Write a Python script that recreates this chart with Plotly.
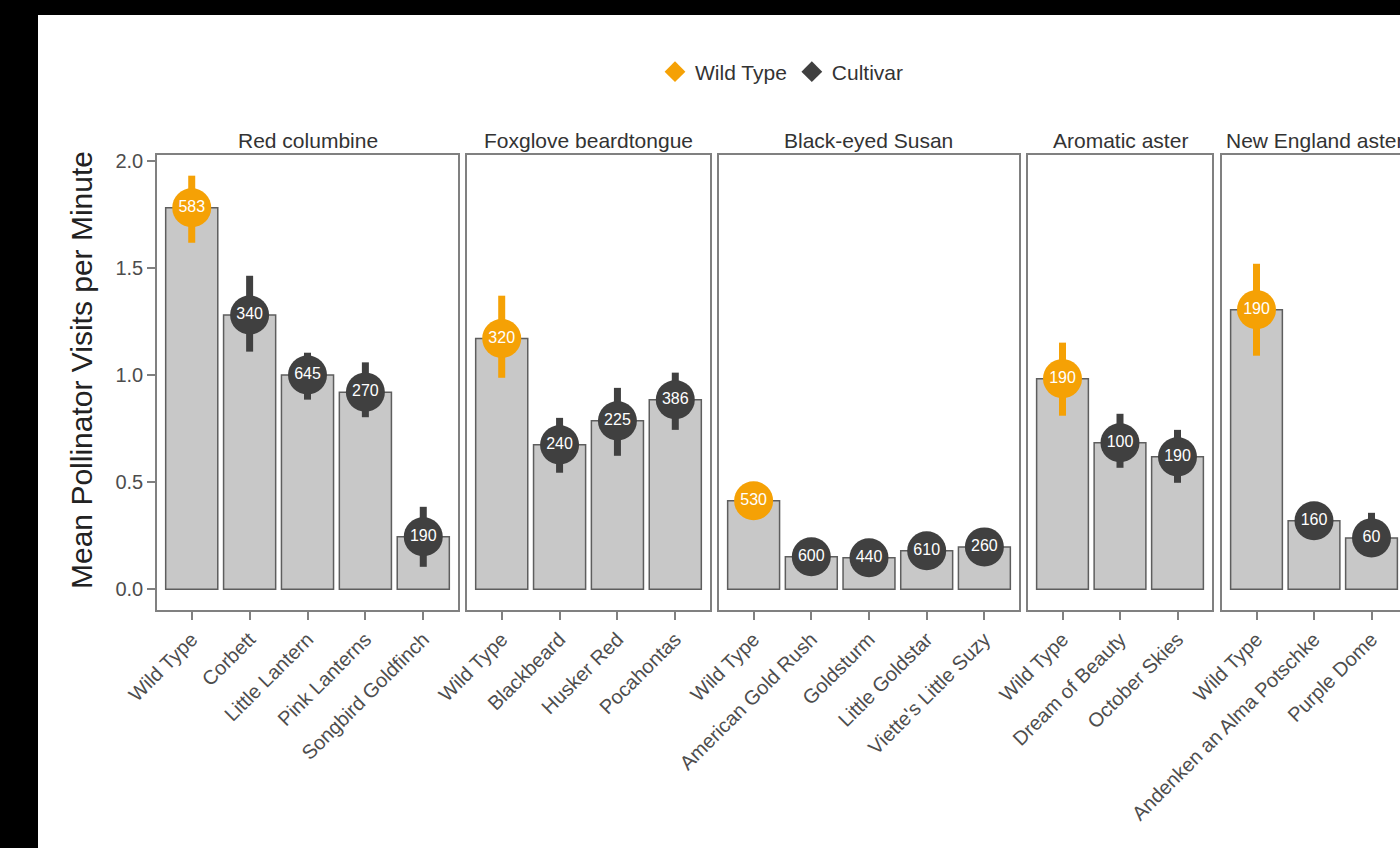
import plotly.graph_objects as go

# ---------------- data ----------------
species = ["Red columbine", "Foxglove beardtongue", "Black-eyed Susan",
           "Aromatic aster", "New England aster"]

varieties = [
    ["Wild Type", "Corbett", "Little Lantern", "Pink Lanterns", "Songbird Goldfinch"],
    ["Wild Type", "Blackbeard", "Husker Red", "Pocahontas"],
    ["Wild Type", "American Gold Rush", "Goldsturm", "Little Goldstar", "Viette's Little Suzy"],
    ["Wild Type", "Dream of Beauty", "October Skies"],
    ["Wild Type", "Andenken an Alma Potschke", "Purple Dome"],
]

means = [
    [1.78, 1.28, 1.00, 0.92, 0.245],
    [1.17, 0.674, 0.786, 0.885],
    [0.413, 0.152, 0.147, 0.180, 0.198],
    [0.983, 0.684, 0.618],
    [1.305, 0.320, 0.240],
]

ci_low = [
    [1.617, 1.109, 0.885, 0.803, 0.105],
    [0.987, 0.544, 0.623, 0.744],
    [0.37, 0.13, 0.12, 0.15, 0.17],
    [0.810, 0.567, 0.497],
    [1.090, 0.27, 0.152],
]

ci_high = [
    [1.930, 1.463, 1.104, 1.059, 0.385],
    [1.370, 0.800, 0.940, 1.011],
    [0.46, 0.18, 0.17, 0.21, 0.23],
    [1.151, 0.819, 0.744],
    [1.519, 0.37, 0.357],
]

counts = [
    [583, 340, 645, 270, 190],
    [320, 240, 225, 386],
    [530, 600, 440, 610, 260],
    [190, 100, 190],
    [190, 160, 60],
]

y_ticks = [0.0, 0.5, 1.0, 1.5, 2.0]

# ---------------- style / layout constants ----------------
W, H = 1400, 848
ORANGE = "#F5A105"
DARK = "#404040"
BAR_FILL = "#c8c8c8"
BAR_LINE = "#5e5e5e"
FRAME = "#808080"
TXT = "#4d4d4d"
FONT = "Liberation Sans, Arial, sans-serif"

panel_px = [(157, 458), (467, 710), (719, 1019), (1028, 1212), (1222, 1406)]
y_top_px, y_bot_px = 155, 610
y_range = [-0.0965, 2.0265]
y_domain = [1 - y_bot_px / H, 1 - y_top_px / H]

fig = go.Figure()
layout = dict(
    width=W, height=H,
    margin=dict(l=0, r=0, t=0, b=0),
    paper_bgcolor="black",
    plot_bgcolor="white",
    font=dict(family=FONT, color=TXT),
    bargap=0.1,
    showlegend=True,
)

annotations = []
for i, sp in enumerate(species):
    ax = "" if i == 0 else str(i + 1)
    xref, yref = "x" + ax, "y" + ax
    cats = varieties[i]
    n = len(cats)
    x0p, x1p = panel_px[i]
    unit = (x1p - x0p) / (n + 0.2)
    vis_x1 = min(x1p, W)
    xr = [-0.6, -0.6 + (vis_x1 - x0p) / unit]

    # bars
    fig.add_trace(go.Bar(
        x=cats, y=means[i], width=0.9,
        marker=dict(color=BAR_FILL, line=dict(color=BAR_LINE, width=1.5)),
        xaxis=xref, yaxis=yref, showlegend=False, hoverinfo="skip",
    ))
    # point ranges: wild type (index 0) and cultivars
    for idxs, col in (([0], ORANGE), (list(range(1, n)), DARK)):
        xs = [cats[k] for k in idxs]
        ys = [means[i][k] for k in idxs]
        up = [ci_high[i][k] - means[i][k] for k in idxs]
        dn = [means[i][k] - ci_low[i][k] for k in idxs]
        fig.add_trace(go.Scatter(
            x=xs, y=ys, mode="markers+text",
            text=[str(counts[i][k]) for k in idxs],
            textposition="middle center",
            textfont=dict(color="white", size=16, family=FONT),
            marker=dict(color=col, size=39, line=dict(width=0)),
            error_y=dict(type="data", array=up, arrayminus=dn, symmetric=False,
                         color=col, thickness=7, width=0),
            xaxis=xref, yaxis=yref, showlegend=False, cliponaxis=False,
        ))

    dom = [x0p / W, vis_x1 / W]
    layout["xaxis" + ax] = dict(
        domain=dom, range=xr, type="category", anchor=yref,
        showline=True, mirror=True, linecolor=FRAME, linewidth=1.5,
        ticks="outside", ticklen=8, tickwidth=1.5, tickcolor=FRAME,
        tickangle=-45, tickfont=dict(size=20, color=TXT, family=FONT),
        showgrid=False, zeroline=False, fixedrange=True, automargin=False,
    )
    ydict = dict(
        domain=y_domain, range=y_range, anchor=xref,
        showline=True, mirror=(i < 4), linecolor=FRAME, linewidth=1.5,
        showgrid=False, zeroline=False, automargin=False,
        tickvals=y_ticks,
    )
    if i == 0:
        ydict.update(ticks="outside", ticklen=8, tickwidth=1.5, tickcolor=FRAME,
                     ticktext=[f"{v:.1f}" for v in y_ticks],
                     tickfont=dict(size=20, color=TXT, family=FONT))
    else:
        ydict.update(ticks="", showticklabels=False)
    layout["yaxis" + ax] = ydict

    annotations.append(dict(
        text=sp, xref="paper", yref="paper",
        x=((x0p + x1p) / 2) / W, y=1 - 140 / H,
        xanchor="center", yanchor="middle", showarrow=False,
        font=dict(size=21, color="#333333", family=FONT),
    ))

annotations.append(dict(
    text="Mean Pollinator Visits per Minute", xref="paper", yref="paper",
    x=81 / W, y=1 - 370 / H, textangle=-90,
    xanchor="center", yanchor="middle", showarrow=False,
    font=dict(size=30, color="#222222", family=FONT),
))

# legend entries
for name, col in (("Wild Type", ORANGE), ("Cultivar", DARK)):
    fig.add_trace(go.Scatter(
        x=[None], y=[None], mode="markers", name=name,
        marker=dict(color=col, size=16, symbol="diamond"),
        xaxis="x", yaxis="y", showlegend=True,
    ))

layout["legend"] = dict(
    orientation="h", x=782 / W, xanchor="center", y=1 - 72 / H, yanchor="middle",
    font=dict(size=21, color="#333333", family=FONT),
    bgcolor="rgba(0,0,0,0)", itemwidth=30, tracegroupgap=0,
)
layout["annotations"] = annotations
layout["shapes"] = [dict(
    type="rect", xref="paper", yref="paper", layer="below",
    x0=38 / W, x1=1.05, y0=-0.05, y1=1 - 15 / H,
    fillcolor="white", line=dict(width=0),
)]

fig.update_layout(**layout)
fig.write_html("out.html")
